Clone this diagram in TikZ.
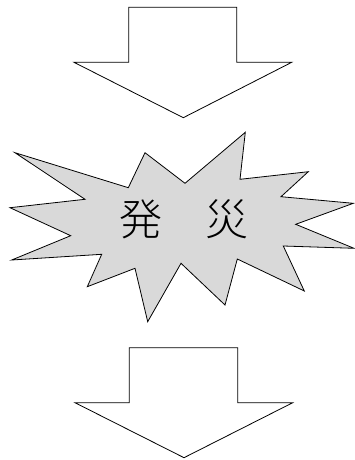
\documentclass[tikz,border=0pt]{standalone}
\usepackage{fontspec}
\newfontfamily\cjk{Noto Sans CJK JP Light}
\begin{document}
\begin{tikzpicture}[x=1pt,y=-1pt,
  outline/.style={draw=black,line width=0.8pt,line join=miter},
  arrowshape/.style={outline,fill=white},
  burst/.style={outline,fill=burstgray}]
\definecolor{burstgray}{HTML}{D9D9D9}
\useasboundingbox (0,0) rectangle (355,460);
% top arrow
\draw[arrowshape] (128.7,7.3) -- (236.7,7.3) -- (236.7,62.3) -- (291.7,62.3)
  -- (183.3,117.7) -- (74,62.3) -- (128.7,62.3) -- cycle;
% explosion
\draw[burst] (15,152.7) -- (128.3,187.7) -- (145,152.7) -- (185,183.3)
  -- (245.3,132.3) -- (240,179.3) -- (308.3,171.7) -- (281,196.7)
  -- (353.3,203.3) -- (295.7,224.3) -- (354,248.3) -- (283.3,246)
  -- (304.3,291) -- (237.3,259) -- (225,305) -- (181,263.3)
  -- (147.7,321.7) -- (135,268.3) -- (87.3,286.7) -- (101.7,254.3)
  -- (11.7,260) -- (70.7,235.7) -- (10,207.7) -- (85,199.3) -- cycle;
\node[font=\cjk\fontsize{43}{43}\selectfont,inner sep=0pt] (label) at (183.5,219.5) {発　災};
% bottom arrow
\draw[arrowshape] (129.3,347.7) -- (237.7,347.7) -- (237.7,402.7) -- (292.7,402.7)
  -- (184,457.7) -- (75,402.7) -- (129.3,402.7) -- cycle;
\end{tikzpicture}
\end{document}
